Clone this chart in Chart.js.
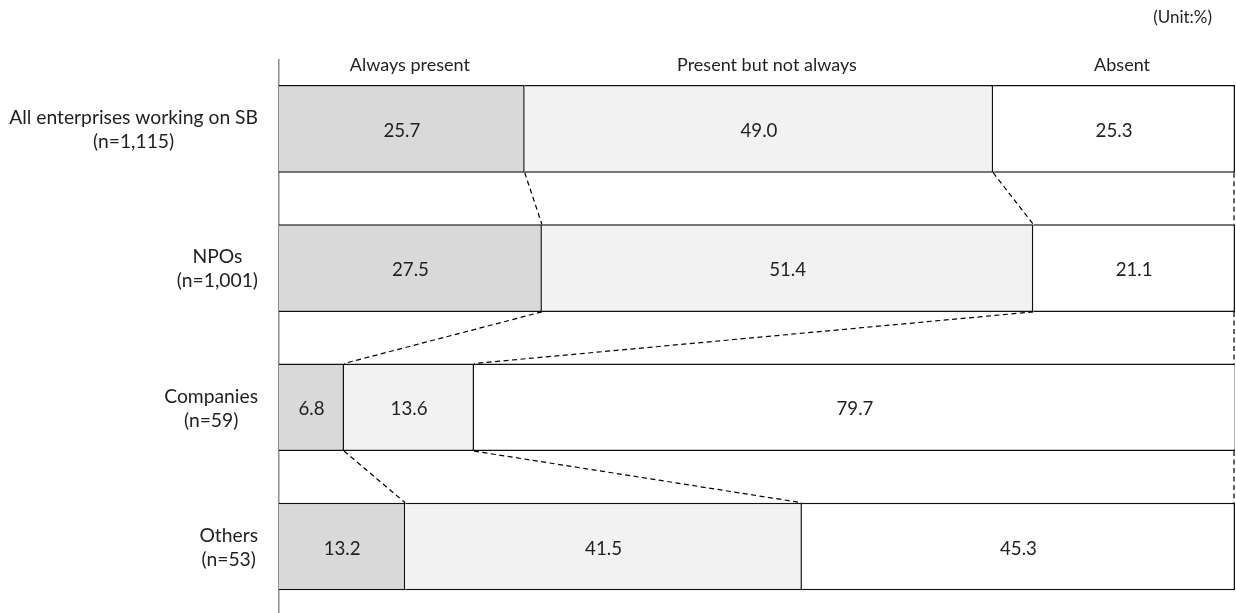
<!DOCTYPE html>
<html>
<head>
<meta charset="utf-8">
<script src="https://cdn.jsdelivr.net/npm/chart.js@4.4.1/dist/chart.umd.min.js"></script>
<style>
  html, body { margin: 0; padding: 0; background: #fff; overflow: hidden; }
  #wrap { width: 1236px; height: 617px; }
</style>
</head>
<body>
<div id="wrap"><canvas id="chart" width="1236" height="617"></canvas></div>
<script>
// Row labels (two lines each) and the three answer groups
const categories = [
  ["All enterprises working on SB", "(n=1,115)"],
  ["NPOs", "(n=1,001)"],
  ["Companies", "(n=59)"],
  ["Others", "(n=53)"]
];
const seriesNames = ["Always present", "Present but not always", "Absent"];

// Shares in percent, one value per row
const alwaysPresent    = [25.7, 27.5, 6.8, 13.2];
const presentNotAlways = [49.0, 51.4, 13.6, 41.5];
const absent           = [25.3, 21.1, 79.7, 45.3];

const unitLabel = "(Unit:%)";

const FONT = "Lato";
const TEXT_COLOR = "#1f1f1f";

// Labels, value captions, dashed connectors between rows
const overlayPlugin = {
  id: "overlay",
  afterDatasetsDraw(chart) {
    const ctx = chart.ctx;
    const xs = chart.scales.x;
    const ys = chart.scales.y;
    const metas = chart.data.datasets.map((d, i) => chart.getDatasetMeta(i));

    // dashed lines joining segment boundaries of neighbouring rows
    const series = chart.data.datasets.map(d => d.data);
    const cumulative = categories.map((c, r) => {
      let s = 0;
      return series.map(vals => { s += vals[r]; return Math.min(100, s); });
    });
    ctx.save();
    ctx.strokeStyle = "#000";
    ctx.lineWidth = 1.2;
    ctx.setLineDash([5, 3.5]);
    for (let r = 0; r < categories.length - 1; r++) {
      const upper = metas[0].data[r];
      const lower = metas[0].data[r + 1];
      const yTop = upper.y + upper.height / 2;
      const yBot = lower.y - lower.height / 2;
      cumulative[r].forEach((v, k) => {
        let x1 = xs.getPixelForValue(v);
        let x2 = xs.getPixelForValue(cumulative[r + 1][k]);
        if (k === cumulative[r].length - 1) { x1 -= 1; x2 -= 1; }
        ctx.beginPath();
        ctx.moveTo(x1, yTop);
        ctx.lineTo(x2, yBot);
        ctx.stroke();
      });
    }
    ctx.restore();

    // value captions centred in each segment
    ctx.save();
    ctx.fillStyle = TEXT_COLOR;
    ctx.font = "18.7px " + FONT;
    ctx.textAlign = "center";
    ctx.textBaseline = "middle";
    metas.forEach((meta, di) => {
      meta.data.forEach((el, i) => {
        const v = chart.data.datasets[di].data[i];
        const p = el.getCenterPoint();
        ctx.fillText(v.toFixed(1), p.x, p.y + 2);
      });
    });
    ctx.restore();

    // row labels: each block ends at the same right edge, lines centred within it
    ctx.save();
    ctx.fillStyle = TEXT_COLOR;
    ctx.font = "19.3px " + FONT;
    ctx.textAlign = "center";
    ctx.textBaseline = "middle";
    const rightEdge = chart.chartArea.left - 21;
    categories.forEach((lines, i) => {
      const yc = ys.getPixelForValue(i);
      const w = Math.max(...lines.map(t => ctx.measureText(t).width));
      const cx = rightEdge - w / 2;
      const lh = 24;
      lines.forEach((t, j) => {
        ctx.fillText(t, cx, yc + (j - (lines.length - 1) / 2) * lh + 1);
      });
    });
    ctx.restore();

    // group headings above the first row's segments
    ctx.save();
    ctx.fillStyle = TEXT_COLOR;
    ctx.font = "18px " + FONT;
    ctx.textAlign = "center";
    ctx.textBaseline = "alphabetic";
    metas.forEach((meta, di) => {
      const p = meta.data[0].getCenterPoint();
      ctx.fillText(seriesNames[di], p.x + 8, 71);
    });
    // unit note
    ctx.font = "17px " + FONT;
    ctx.textAlign = "right";
    ctx.fillText(unitLabel, 1212, 23);
    ctx.restore();
  }
};

const ctxEl = document.getElementById("chart");
new Chart(ctxEl, {
  type: "bar",
  data: {
    labels: categories,
    datasets: [
      { label: seriesNames[0], data: alwaysPresent,    backgroundColor: "#d9d9d9" },
      { label: seriesNames[1], data: presentNotAlways, backgroundColor: "#f2f2f2" },
      { label: seriesNames[2], data: absent,           backgroundColor: "#ffffff" }
    ].map(d => Object.assign(d, {
      borderColor: "#111111",
      borderWidth: 1.5,
      borderSkipped: "start",
      categoryPercentage: 1,
      barPercentage: 0.629,
      inflateAmount: 0
    }))
  },
  options: {
    indexAxis: "y",
    responsive: false,
    animation: false,
    devicePixelRatio: 1,
    layout: { padding: { left: 279, right: 1, top: 59.3, bottom: 0.9 } },
    scales: {
      x: { stacked: true, min: 0, max: 100, display: false },
      y: {
        stacked: true,
        offset: true,
        ticks: { display: false },
        grid: { display: false, drawTicks: false },
        border: { display: true, color: "#8c8c8c", width: 1.5 }
      }
    },
    plugins: { legend: { display: false }, tooltip: { enabled: false } }
  },
  plugins: [overlayPlugin]
});
</script>
</body>
</html>
